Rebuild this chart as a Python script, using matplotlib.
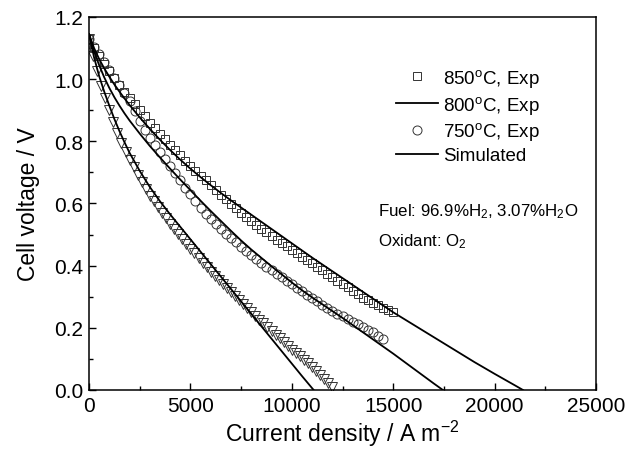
import numpy as np
import matplotlib
matplotlib.use("Agg")
import matplotlib.pyplot as plt
from matplotlib.lines import Line2D
from matplotlib.ticker import MultipleLocator

plt.rcParams['font.family'] = 'Liberation Sans'
plt.rcParams['mathtext.fontset'] = 'custom'
plt.rcParams['mathtext.rm'] = 'Liberation Sans'
plt.rcParams['mathtext.it'] = 'Liberation Sans:italic'

# Experimental i-V data (current density in A/m2, cell voltage in V)
cur_850 = np.arange(0, 15001, 250)
volt_850 = [1.13, 1.10, 1.075, 1.05, 1.025, 1.005, 0.98, 0.96, 0.94, 0.92,
            0.90, 0.88, 0.86, 0.842, 0.824, 0.806, 0.788, 0.771, 0.755, 0.738,
            0.722, 0.706, 0.690, 0.674, 0.658, 0.643, 0.628, 0.613, 0.598, 0.584,
            0.570, 0.557, 0.544, 0.531, 0.519, 0.507, 0.495, 0.484, 0.473, 0.462,
            0.451, 0.440, 0.429, 0.418, 0.407, 0.396, 0.385, 0.374, 0.363, 0.352,
            0.341, 0.330, 0.319, 0.308, 0.297, 0.288, 0.280, 0.272, 0.264, 0.257,
            0.250]

cur_800 = np.arange(0, 14501, 250)
volt_800 = [1.130, 1.105, 1.080, 1.055, 1.030, 1.005, 0.980, 0.955, 0.930, 0.898,
            0.866, 0.836, 0.812, 0.789, 0.766, 0.743, 0.720, 0.697, 0.674, 0.651,
            0.629, 0.607, 0.586, 0.567, 0.549, 0.533, 0.518, 0.503, 0.489, 0.475,
            0.461, 0.448, 0.435, 0.422, 0.410, 0.397, 0.385, 0.374, 0.362, 0.351,
            0.340, 0.329, 0.317, 0.306, 0.295, 0.285, 0.275, 0.265, 0.255, 0.246,
            0.237, 0.229, 0.220, 0.211, 0.202, 0.194, 0.185, 0.175, 0.165]

cur_750 = np.arange(0, 12001, 200)
volt_750 = [1.130, 1.075, 1.025, 0.979, 0.939, 0.900, 0.863, 0.827, 0.795, 0.767,
            0.740, 0.716, 0.692, 0.669, 0.647, 0.625, 0.607, 0.589, 0.571, 0.553,
            0.535, 0.519, 0.503, 0.487, 0.471, 0.455, 0.440, 0.425, 0.410, 0.395,
            0.380, 0.367, 0.354, 0.341, 0.328, 0.315, 0.302, 0.289, 0.276, 0.263,
            0.250, 0.238, 0.226, 0.214, 0.202, 0.190, 0.178, 0.166, 0.154, 0.142,
            0.130, 0.119, 0.108, 0.097, 0.086, 0.075, 0.062, 0.049, 0.036, 0.023,
            0.010]

# Model curves
sim_cur_850 = [0, 250, 500, 750, 1000, 1250, 1500, 1750, 2000, 2500, 3000, 3500,
               4000, 4500, 5000, 5500, 6000, 6500, 7000, 7500, 8000, 8500, 9000,
               9500, 10000, 10500, 11000, 11500, 12000, 12500, 13000, 13500, 14000,
               14500, 15000, 16000, 17000, 18000, 19000, 20000, 21000, 21400]
sim_volt_850 = [1.145, 1.10, 1.065, 1.035, 1.008, 0.983, 0.96, 0.938, 0.917, 0.877,
                0.84, 0.805, 0.772, 0.741, 0.712, 0.685, 0.659, 0.634, 0.61, 0.587,
                0.564, 0.541, 0.518, 0.495, 0.472, 0.449, 0.426, 0.404, 0.382, 0.36,
                0.338, 0.316, 0.294, 0.272, 0.25, 0.21, 0.17, 0.13, 0.09, 0.052,
                0.015, 0.0]

sim_cur_800 = [0, 250, 500, 750, 1000, 1250, 1500, 1750, 2000, 2500, 3000, 3500,
               4000, 4500, 5000, 5500, 6000, 6500, 7000, 7500, 8000, 8500, 9000,
               9500, 10000, 10500, 11000, 11500, 12000, 12500, 13000, 13500, 14000,
               14500, 15000, 15500, 16000, 16500, 17000, 17450]
sim_volt_800 = [1.145, 1.09, 1.045, 1.006, 0.972, 0.942, 0.915, 0.890, 0.867, 0.825,
                0.785, 0.748, 0.712, 0.677, 0.643, 0.609, 0.576, 0.544, 0.512, 0.481,
                0.452, 0.425, 0.398, 0.372, 0.346, 0.321, 0.298, 0.276, 0.254, 0.232,
                0.209, 0.186, 0.163, 0.140, 0.117, 0.093, 0.069, 0.045, 0.021, 0.0]

sim_cur_750 = [0, 250, 500, 750, 1000, 1250, 1500, 1750, 2000, 2500, 3000, 3500,
               4000, 4500, 5000, 5500, 6000, 6500, 7000, 7500, 8000, 8500, 9000,
               9500, 10000, 10500, 11000, 11080]
sim_volt_750 = [1.145, 1.07, 1.01, 0.96, 0.915, 0.872, 0.833, 0.797, 0.763, 0.705,
                0.653, 0.607, 0.565, 0.525, 0.485, 0.445, 0.405, 0.365, 0.325, 0.285,
                0.245, 0.205, 0.165, 0.125, 0.085, 0.045, 0.006, 0.0]

fig = plt.figure(figsize=(6.41, 4.56), dpi=100)
ax = fig.add_axes([89 / 641, 65 / 456, 507 / 641, 373 / 456])

mk = dict(linestyle='none', markerfacecolor='none', markeredgecolor='#333333',
          markeredgewidth=0.7)
ax.plot(cur_850, volt_850, marker='s', markersize=6.0, **mk)
ax.plot(cur_800, volt_800, marker='o', markersize=6.5, **mk)
ax.plot(cur_750, volt_750, marker='v', markersize=6.5, **mk)

for c, v in [(sim_cur_850, sim_volt_850), (sim_cur_800, sim_volt_800),
             (sim_cur_750, sim_volt_750)]:
    ax.plot(c, v, color='black', lw=1.3)

ax.set_xlim(0, 25000)
ax.set_ylim(0, 1.2)
ax.xaxis.set_major_locator(MultipleLocator(5000))
ax.xaxis.set_minor_locator(MultipleLocator(2500))
ax.yaxis.set_major_locator(MultipleLocator(0.2))
ax.yaxis.set_minor_locator(MultipleLocator(0.1))
ax.yaxis.set_major_formatter('{x:.1f}')
ax.tick_params(which='both', direction='in', top=False, right=False,
               labelsize=15, width=1.0)
ax.tick_params(which='major', length=5, pad=4)
ax.tick_params(which='minor', length=3)
for s in ax.spines.values():
    s.set_linewidth(1.1)

ax.set_xlabel('Current density / A m$^{-2}$', fontsize=16.5, labelpad=2)
ax.set_ylabel('Cell voltage / V', fontsize=16.5, labelpad=10)

handles = [
    Line2D([], [], marker='s', markersize=6.0, **mk),
    Line2D([], [], color='black', lw=1.3),
    Line2D([], [], marker='o', markersize=6.5, **mk),
    Line2D([], [], color='black', lw=1.3),
]
labels = ['850$^{\\rm o}$C, Exp', '800$^{\\rm o}$C, Exp',
          '750$^{\\rm o}$C, Exp', 'Simulated']
ax.legend(handles, labels, loc='upper left', frameon=False, fontsize=13.5,
          bbox_to_anchor=(396 / 641, 1 - 68 / 456), bbox_transform=fig.transFigure,
          borderpad=0, borderaxespad=0, handlelength=2.25, handletextpad=0.25,
          labelspacing=0.25)

ax.text(14250, 0.576, 'Fuel: 96.9%H$_2$, 3.07%H$_2$O', fontsize=12.2, va='center')
ax.text(14250, 0.479, 'Oxidant: O$_2$', fontsize=12.2, va='center')

fig.savefig('out.png', dpi=100)
